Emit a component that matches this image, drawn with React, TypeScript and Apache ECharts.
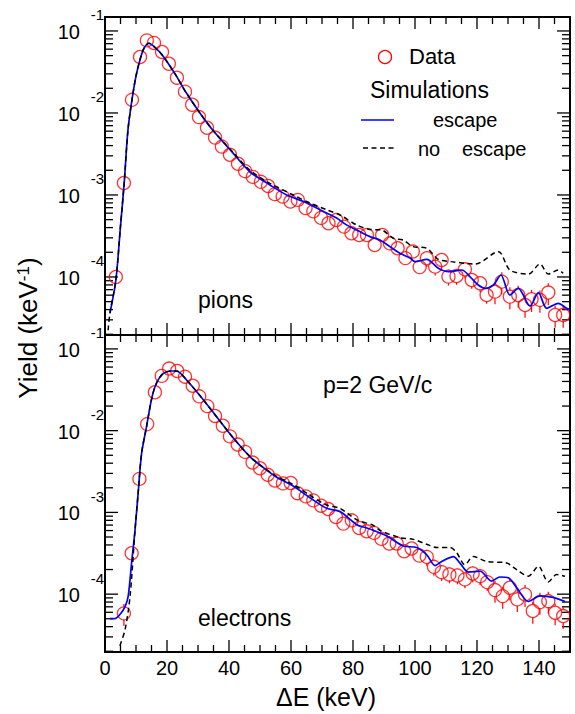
import React, { useEffect, useRef } from 'react';
import * as echarts from 'echarts';

const FONT = "'Liberation Sans', Arial, Helvetica, sans-serif";

// Axis ranges
const X_MIN = 0;
const X_MAX = 150;
const Y_MIN = 1.96e-5;
const Y_MAX = 0.148;

// Tick labels
const xLabelValues = [0, 20, 40, 60, 80, 100, 120, 140];
const xTickValues = [5, 10, 15, 20, 25, 30, 35, 40, 45, 50, 55, 60, 65, 70, 75, 80, 85, 90, 95, 100, 105, 110, 115, 120, 125, 130, 135, 140, 145];
const yLabelExponents = [-1, -2, -3, -4];
const yDecadeExponents = [-5, -4, -3, -2, -1];
const yMantissas = [1, 2, 3, 4, 5, 6, 7, 8, 9];

// ---- Pions (top panel) ----
const pionDataX = [3.5, 6.1, 8.7, 11.3, 13.5, 15.8, 18.4, 20.6, 23.2, 25.8, 28.1, 30.3, 32.9, 35.5, 37.7, 40.3, 42.9, 45.2, 47.7, 50.3, 52.6, 54.8, 57.3, 59.8, 62.2, 64.7, 67.2, 69.7, 72.1, 74.6, 77.1, 79.5, 82.0, 84.5, 87.0, 89.4, 91.9, 94.4, 96.9, 99.3, 101.5, 103.8, 106.5, 108.6, 110.8, 113.4, 116.1, 118.3, 121.0, 123.1, 125.8, 128.0, 130.6, 133.3, 135.5, 137.6, 140.3, 143.0, 145.2, 147.8];
const pionDataLog10 = [-4.0, -2.854, -1.84, -1.317, -1.115, -1.146, -1.256, -1.40, -1.57, -1.74, -1.90, -2.05, -2.18, -2.30, -2.41, -2.51, -2.62, -2.71, -2.78, -2.84, -2.89, -2.99, -3.02, -3.08, -3.06, -3.16, -3.20, -3.28, -3.345, -3.305, -3.386, -3.467, -3.488, -3.488, -3.61, -3.488, -3.59, -3.65, -3.77, -3.69, -3.88, -3.772, -3.874, -3.793, -3.996, -3.988, -3.907, -4.037, -4.077, -4.22, -4.179, -4.057, -4.24, -4.22, -4.342, -4.272, -4.28, -4.19, -4.464, -4.464];
const pionRelErr = [0.12, 0.04, 0.04, 0.04, 0.04, 0.04, 0.04, 0.04, 0.04, 0.04, 0.04, 0.04, 0.04, 0.04, 0.04, 0.04, 0.04, 0.04, 0.04, 0.04, 0.04, 0.04, 0.08, 0.08, 0.08, 0.08, 0.08, 0.08, 0.08, 0.08, 0.08, 0.08, 0.08, 0.08, 0.08, 0.08, 0.14, 0.14, 0.14, 0.14, 0.14, 0.22, 0.22, 0.22, 0.22, 0.22, 0.22, 0.22, 0.22, 0.22, 0.30, 0.30, 0.30, 0.30, 0.30, 0.30, 0.30, 0.30, 0.30, 0.30];

const pionEscapeX = [1.6, 3.5, 5.0, 6.2, 7.4, 8.7, 10, 11.3, 12.6, 14.2, 16.1, 18.4, 21, 23.2, 25.8, 30.6, 35, 41.3, 46.8, 53.2, 58.6, 64, 69.3, 74.7, 77.9, 81.2, 85.5, 88.7, 91.9, 95.1, 98.4, 100.0, 103.8, 107.5, 110.8, 115.1, 117.7, 120.4, 122.6, 125.3, 127.7, 130.6, 133.3, 137.1, 139.8, 142.5, 146.2, 148.9, 150];
const pionEscapeLog10 = [-4.44, -4.04, -3.38, -2.85, -2.21, -1.84, -1.55, -1.35, -1.21, -1.15, -1.20, -1.29, -1.43, -1.56, -1.73, -2.0, -2.22, -2.49, -2.72, -2.878, -3.0, -3.08, -3.18, -3.28, -3.365, -3.427, -3.508, -3.55, -3.63, -3.71, -3.77, -3.813, -3.785, -3.894, -3.935, -3.915, -3.996, -4.098, -4.138, -4.098, -3.976, -4.22, -4.138, -4.354, -4.19, -4.382, -4.321, -4.382, -4.40];

const pionNoEscapeX = [1.0, 1.6, 3.5, 5.0, 6.2, 7.4, 8.7, 10, 11.3, 12.6, 14.2, 16.1, 18.4, 21, 23.2, 25.8, 30.6, 35, 41.3, 46.8, 53.2, 60.7, 66.1, 71.5, 75.8, 81.2, 85.5, 89.2, 93, 96.2, 99.4, 103.8, 107.5, 111.8, 116.1, 119.4, 126.9, 130.6, 136.6, 140.3, 143, 146.2, 147.8];
const pionNoEscapeLog10 = [-4.65, -4.44, -4.04, -3.38, -2.85, -2.21, -1.84, -1.55, -1.35, -1.21, -1.15, -1.20, -1.29, -1.43, -1.56, -1.73, -2.0, -2.22, -2.48, -2.70, -2.858, -3.0, -3.10, -3.18, -3.244, -3.366, -3.42, -3.427, -3.528, -3.55, -3.63, -3.65, -3.785, -3.813, -3.833, -3.842, -3.691, -3.915, -3.964, -3.842, -3.964, -3.915, -3.955];

// ---- Electrons (bottom panel) ----
const electronDataX = [6.1, 8.6, 11.1, 13.6, 16.1, 18.3, 20.7, 23.3, 25.8, 28.3, 30.4, 33.0, 35.5, 38.0, 40.3, 42.8, 45.2, 47.6, 50.0, 52.5, 54.8, 57.4, 59.9, 62.1, 64.8, 67.2, 69.7, 72.0, 74.5, 76.9, 79.6, 82.0, 84.4, 86.8, 89.2, 91.7, 94.1, 96.5, 98.9, 101.4, 103.8, 106.1, 108.6, 111.1, 113.7, 116.1, 118.6, 121.0, 123.3, 125.8, 128.3, 130.6, 133.0, 135.5, 138.0, 140.3, 143.0, 145.2, 147.8];
const electronDataLog10 = [-4.235, -3.50, -2.59, -1.92, -1.53, -1.33, -1.24, -1.27, -1.34, -1.45, -1.58, -1.70, -1.82, -1.94, -2.07, -2.17, -2.26, -2.39, -2.46, -2.54, -2.61, -2.645, -2.64, -2.765, -2.804, -2.853, -2.918, -2.959, -3.056, -3.137, -3.097, -3.190, -3.231, -3.251, -3.324, -3.381, -3.381, -3.475, -3.442, -3.528, -3.544, -3.666, -3.731, -3.759, -3.772, -3.820, -3.747, -3.780, -3.853, -3.950, -4.024, -3.922, -4.064, -4.003, -4.206, -4.097, -4.085, -4.227, -4.268];
const electronRelErr = [0.30, 0.04, 0.04, 0.04, 0.04, 0.04, 0.04, 0.04, 0.04, 0.04, 0.04, 0.04, 0.04, 0.04, 0.04, 0.04, 0.04, 0.04, 0.04, 0.04, 0.04, 0.04, 0.08, 0.08, 0.08, 0.08, 0.08, 0.08, 0.08, 0.08, 0.08, 0.08, 0.08, 0.08, 0.08, 0.14, 0.14, 0.14, 0.14, 0.14, 0.22, 0.22, 0.22, 0.22, 0.22, 0.22, 0.22, 0.22, 0.22, 0.30, 0.30, 0.30, 0.30, 0.30, 0.30, 0.30, 0.30, 0.30, 0.30];

const electronEscapeX = [1.6, 3.2, 5.0, 6.5, 7.5, 8.6, 9.7, 10.7, 11.8, 13.4, 15.1, 16.6, 18.8, 21.5, 23.1, 26.3, 30.6, 36, 41.4, 46.8, 50, 55, 60.8, 66.1, 71.5, 75.8, 81.2, 84.4, 86.6, 90.9, 96.2, 100.5, 103.8, 106.5, 108.6, 112.4, 114.5, 117.2, 121, 124.7, 127.4, 130.1, 132.8, 136.6, 140.3, 144.6, 148.4];
const electronEscapeLog10 = [-4.30, -4.30, -4.24, -4.15, -4.02, -3.61, -3.21, -2.76, -2.28, -1.95, -1.60, -1.42, -1.30, -1.27, -1.27, -1.38, -1.57, -1.83, -2.09, -2.32, -2.42, -2.56, -2.68, -2.82, -2.95, -2.99, -3.15, -3.19, -3.22, -3.29, -3.41, -3.43, -3.52, -3.65, -3.60, -3.54, -3.62, -3.73, -3.72, -3.84, -3.79, -3.80, -3.92, -4.09, -4.02, -4.04, -4.09];

const electronNoEscapeX = [4.8, 6.5, 8.1, 9.7, 10.7, 11.8, 13.4, 15.1, 16.6, 18.8, 21.5, 23.1, 26.3, 30.6, 36, 41.4, 46.8, 50, 55, 60.8, 66.1, 71.5, 75.8, 81.2, 86.6, 88.7, 95.2, 99.5, 103.8, 107, 111.3, 113.4, 116.1, 118.8, 123.1, 129.6, 132.8, 136.6, 139.8, 143, 145.7, 148.4];
const electronNoEscapeLog10 = [-4.63, -4.43, -4.02, -3.21, -2.76, -2.28, -1.95, -1.60, -1.42, -1.30, -1.27, -1.27, -1.38, -1.57, -1.83, -2.09, -2.32, -2.42, -2.55, -2.66, -2.79, -2.91, -2.95, -3.09, -3.16, -3.22, -3.31, -3.33, -3.39, -3.43, -3.43, -3.49, -3.64, -3.54, -3.60, -3.62, -3.70, -3.78, -3.66, -3.85, -3.76, -3.78];

const toPairs = (xs: number[], logs: number[]) => xs.map((x, i) => [x, Math.pow(10, logs[i])]);
const toErr = (xs: number[], logs: number[], rel: number[]) =>
  xs.map((x, i) => {
    const y = Math.pow(10, logs[i]);
    return [x, y, y * (1 - rel[i]), y * (1 + rel[i])];
  });

const yTickValues: number[][] = [];
yDecadeExponents.forEach((e) => {
  yMantissas.forEach((m) => {
    const v = m * Math.pow(10, e);
    if (v >= Y_MIN && v <= Y_MAX) yTickValues.push([X_MIN, v, m === 1 ? 1 : 0]);
  });
});

const TICK_STYLE = { stroke: '#000', lineWidth: 1.3 };

function panelSeries(gi: number, dataX: number[], dataLog: number[], rel: number[], escX: number[], escLog: number[], noX: number[], noLog: number[]) {
  return [
    {
      type: 'custom',
      xAxisIndex: gi,
      yAxisIndex: gi,
      clip: false,
      silent: true,
      data: xTickValues.map((v) => [v, Y_MIN]),
      encode: { x: 0, y: 1 },
      renderItem: (_p: any, api: any) => {
        const x = api.value(0);
        const len = x % 20 === 0 ? 12 : 7;
        const pb = api.coord([x, Y_MIN]);
        const pt = api.coord([x, Y_MAX]);
        return {
          type: 'group',
          children: [
            { type: 'line', shape: { x1: pb[0], y1: pb[1], x2: pb[0], y2: pb[1] - len }, style: TICK_STYLE },
            { type: 'line', shape: { x1: pt[0], y1: pt[1], x2: pt[0], y2: pt[1] + len }, style: TICK_STYLE },
          ],
        };
      },
    },
    {
      type: 'custom',
      xAxisIndex: gi,
      yAxisIndex: gi,
      clip: false,
      silent: true,
      data: yTickValues,
      encode: { x: 0, y: 1 },
      renderItem: (_p: any, api: any) => {
        const v = api.value(1);
        const len = api.value(2) === 1 ? 13 : 8;
        const pl = api.coord([X_MIN, v]);
        const pr = api.coord([X_MAX, v]);
        return {
          type: 'group',
          children: [
            { type: 'line', shape: { x1: pl[0], y1: pl[1], x2: pl[0] + len, y2: pl[1] }, style: TICK_STYLE },
            { type: 'line', shape: { x1: pr[0], y1: pr[1], x2: pr[0] - len, y2: pr[1] }, style: TICK_STYLE },
          ],
        };
      },
    },
    {
      type: 'custom',
      xAxisIndex: gi,
      yAxisIndex: gi,
      clip: false,
      silent: true,
      data: yLabelExponents.map((e) => [X_MIN, Math.pow(10, e), e]),
      encode: { x: 0, y: 1 },
      renderItem: (_p: any, api: any) => {
        const p = api.coord([X_MIN, api.value(1)]);
        return {
          type: 'group',
          children: [
            { type: 'text', x: p[0] - 25, y: p[1] + 1, style: { text: '10', fontSize: 20, fontFamily: FONT, fill: '#000', align: 'right', verticalAlign: 'middle' } },
            { type: 'text', x: p[0] - 1, y: p[1] - 16, style: { text: String(api.value(2)), fontSize: 15, fontFamily: FONT, fill: '#000', align: 'right', verticalAlign: 'middle' } },
          ],
        };
      },
    },
    {
      type: 'custom',
      xAxisIndex: gi,
      yAxisIndex: gi,
      silent: true,
      data: toErr(dataX, dataLog, rel),
      encode: { x: 0, y: 1 },
      renderItem: (_p: any, api: any) => {
        const x = api.value(0);
        const c = api.coord([x, api.value(1)]);
        const lo = api.coord([x, api.value(2)]);
        const hi = api.coord([x, api.value(3)]);
        const R = 6.5;
        const children: any[] = [];
        const st = { stroke: '#ff0000', lineWidth: 1.2 };
        if (lo[1] > c[1] + R) children.push({ type: 'line', shape: { x1: c[0], y1: c[1] + R, x2: c[0], y2: lo[1] }, style: st });
        if (hi[1] < c[1] - R) children.push({ type: 'line', shape: { x1: c[0], y1: hi[1], x2: c[0], y2: c[1] - R }, style: st });
        return { type: 'group', children };
      },
    },
    {
      type: 'scatter',
      name: 'Data',
      xAxisIndex: gi,
      yAxisIndex: gi,
      data: toPairs(dataX, dataLog),
      symbol: 'circle',
      symbolSize: 13,
      itemStyle: { color: 'rgba(0,0,0,0)', borderColor: '#ff0000', borderWidth: 1.3 },
      silent: true,
    },
    {
      type: 'line',
      name: 'escape',
      xAxisIndex: gi,
      yAxisIndex: gi,
      data: toPairs(escX, escLog),
      showSymbol: false,
      smooth: 0.3,
      lineStyle: { color: '#0000ff', width: 1.7 },
      silent: true,
    },
    {
      type: 'line',
      name: 'no escape',
      xAxisIndex: gi,
      yAxisIndex: gi,
      data: toPairs(noX, noLog),
      showSymbol: false,
      smooth: 0.3,
      lineStyle: { color: '#000000', width: 1.5, type: [5, 3.5] },
      silent: true,
    },
  ];
}

const txt = (text: string, x: number, y: number, fontSize: number, align = 'left') => ({
  type: 'text',
  x,
  y,
  style: { text, fontSize, fontFamily: FONT, fill: '#000', align, verticalAlign: 'middle' },
});

const option: any = {
  animation: false,
  backgroundColor: '#ffffff',
  grid: [
    { left: 105, top: 17, width: 465, height: 318, show: true, borderColor: '#000', borderWidth: 2, backgroundColor: 'transparent', containLabel: false, outerBoundsMode: 'none' },
    { left: 105, top: 335, width: 465, height: 317, show: true, borderColor: '#000', borderWidth: 2, backgroundColor: 'transparent', containLabel: false, outerBoundsMode: 'none' },
  ],
  xAxis: [
    { gridIndex: 0, type: 'value', min: X_MIN, max: X_MAX, axisLine: { show: false }, axisTick: { show: false }, axisLabel: { show: false }, splitLine: { show: false } },
    {
      gridIndex: 1,
      type: 'value',
      min: X_MIN,
      max: X_MAX,
      interval: 20,
      axisLine: { show: false },
      axisTick: { show: false },
      splitLine: { show: false },
      axisLabel: {
        show: true,
        customValues: xLabelValues,
        formatter: (v: number) => (xLabelValues.indexOf(v) >= 0 ? String(v) : ''),
        fontSize: 20,
        fontFamily: FONT,
        color: '#000',
        margin: 6,
      },
    },
  ],
  yAxis: [
    { gridIndex: 0, type: 'log', logBase: 10, min: Y_MIN, max: Y_MAX, axisLine: { show: false }, axisTick: { show: false }, axisLabel: { show: false }, splitLine: { show: false } },
    { gridIndex: 1, type: 'log', logBase: 10, min: Y_MIN, max: Y_MAX, axisLine: { show: false }, axisTick: { show: false }, axisLabel: { show: false }, splitLine: { show: false } },
  ],
  series: [
    ...panelSeries(0, pionDataX, pionDataLog10, pionRelErr, pionEscapeX, pionEscapeLog10, pionNoEscapeX, pionNoEscapeLog10),
    ...panelSeries(1, electronDataX, electronDataLog10, electronRelErr, electronEscapeX, electronEscapeLog10, electronNoEscapeX, electronNoEscapeLog10),
  ],
  graphic: [
    {
      type: 'text',
      x: 28,
      y: 328,
      rotation: Math.PI / 2,
      style: {
        text: '{a|Yield (keV}{s|-1}{a|)}',
        align: 'center',
        verticalAlign: 'middle',
        fill: '#000',
        fontFamily: FONT,
        fontSize: 26,
        rich: {
          a: { fontSize: 26, fontFamily: FONT, fill: '#000' },
          s: { fontSize: 17, fontFamily: FONT, fill: '#000', verticalAlign: 'top' },
        },
      },
    },
    txt('ΔE (keV)', 326, 697, 25, 'center'),
    txt('pions', 198, 300, 23),
    txt('electrons', 198, 618, 23),
    txt('p=2 GeV/c', 323, 384.5, 23),
    { type: 'circle', shape: { cx: 385, cy: 57, r: 6.5 }, style: { fill: 'none', stroke: '#ff0000', lineWidth: 1.3 } },
    txt('Data', 409, 56, 22),
    txt('Simulations', 370, 90, 23),
    { type: 'line', shape: { x1: 361, y1: 120, x2: 394, y2: 120 }, style: { stroke: '#0000ff', lineWidth: 1.7 } },
    txt('escape', 433, 120, 20),
    { type: 'line', shape: { x1: 363, y1: 148, x2: 394, y2: 148 }, style: { stroke: '#000', lineWidth: 1.5, lineDash: [5, 3.5] } },
    txt('no', 418, 149, 20),
    txt('escape', 462, 149, 20),
  ],
};

export default function App() {
  const ref = useRef<HTMLDivElement>(null);
  useEffect(() => {
    document.body.style.margin = '0';
    const chart = echarts.init(ref.current as HTMLDivElement, null, { renderer: 'svg' });
    chart.setOption(option);
    return () => {
      chart.dispose();
    };
  }, []);
  return <div ref={ref} style={{ position: 'absolute', left: 0, top: 0, width: 575, height: 714, background: '#fff' }} />;
}
